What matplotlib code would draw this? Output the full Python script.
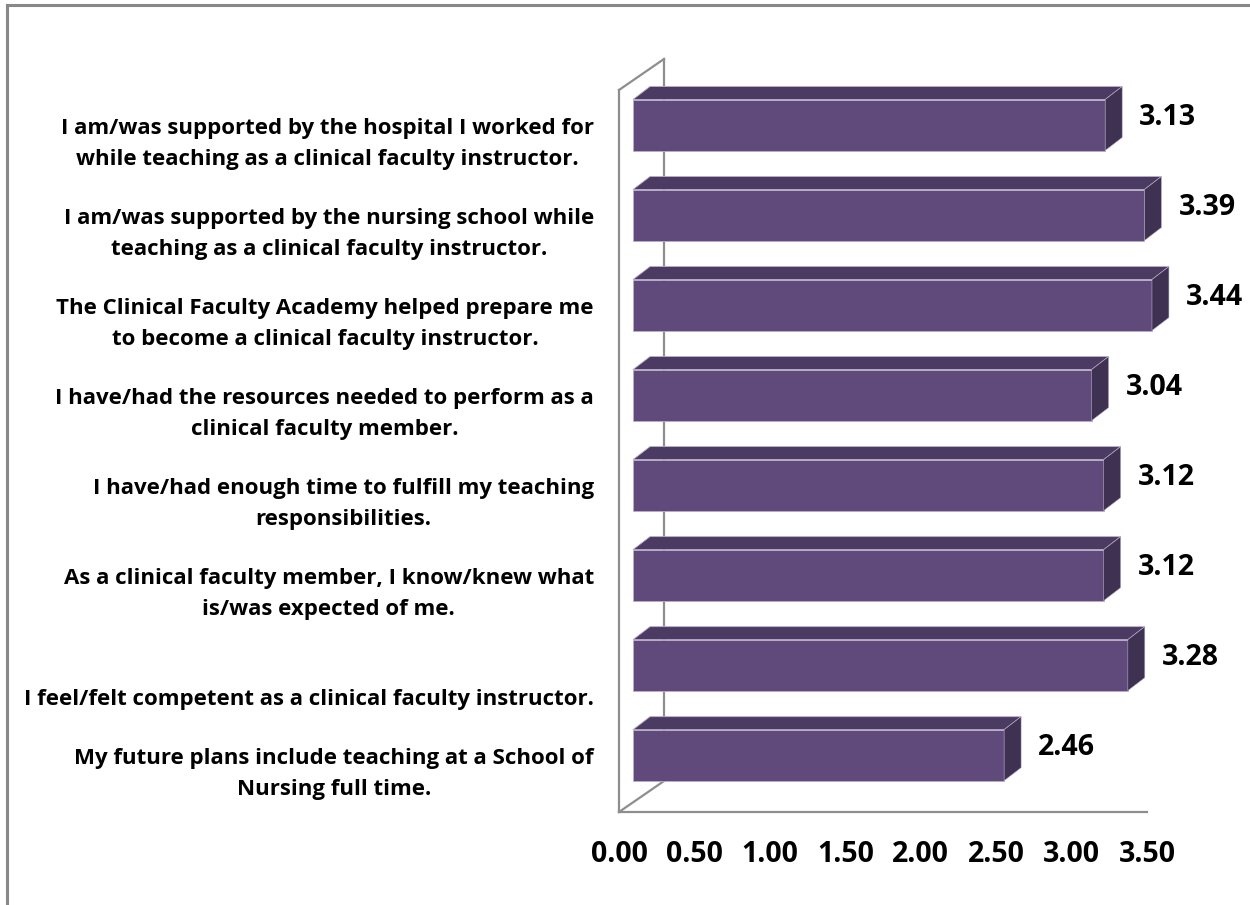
import numpy as np
import matplotlib
matplotlib.use('Agg')
import matplotlib.pyplot as plt
from matplotlib.patches import Polygon
from matplotlib.lines import Line2D

labels=['I am/was supported by the hospital I worked for\nwhile teaching as a clinical faculty instructor.',
	'I am/was supported by the nursing school while\nteaching as a clinical faculty instructor.',
	'The Clinical Faculty Academy helped prepare me\nto become a clinical faculty instructor.',
	'I have/had the resources needed to perform as a\nclinical faculty member.',
	'I have/had enough time to fulfill my teaching\nresponsibilities.',
	'As a clinical faculty member, I know/knew what\nis/was expected of me.',
	'\nI feel/felt competent as a clinical faculty instructor.',
	'My future plans include teaching at a School of\nNursing full time.']
values=[3.13,3.39,3.44,3.04,3.12,3.12,3.28,2.46]
ticks=[0.0,0.5,1.0,1.5,2.0,2.5,3.0,3.5]

W,H=1250,905
plt.rcParams['font.family']=['Open Sans','DejaVu Sans']
fig=plt.figure(figsize=(W/100,H/100),dpi=100)

# front plane of the 3d box, in image pixels
x0,x1=619,1147
ytop,yfloor=90,812
ax=fig.add_axes([x0/W,(H-yfloor)/H,(x1-x0)/W,(yfloor-ytop)/H])
ylo,yhi=7.52,-0.5
ax.set_xlim(0,3.5)
ax.set_ylim(ylo,yhi)
kx=3.5/(x1-x0)            # data per px
ky=(ylo-yhi)/(yfloor-ytop)

front='#604A7B'; topc='#4B3A62'; sidec='#3F3152'; edge='#B9ADC9'
wallc='#8E8E8E'

d1x,d1y=14*kx,10*ky   # bar front relative to wall front
d2x,d2y=17*kx,13*ky   # bar depth
d3x,d3y=45*kx,31*ky   # wall depth
bh=51/90

pos=np.arange(len(values))

# wall / floor
for xs,ys in [([0,0],[ylo,yhi]),([0,d3x],[yhi,yhi-d3y]),([d3x,d3x],[yhi-d3y,ylo-d3y]),
		([0,d3x],[ylo,ylo-d3y]),([0,3.5],[ylo,ylo])]:
	ax.add_line(Line2D(xs,ys,color=wallc,lw=1.6,zorder=1,clip_on=False))

yc=pos-d1y
ax.barh(yc,values,left=d1x,height=bh,color=front,edgecolor=edge,linewidth=0.6,zorder=3,clip_on=False)
for i,v in enumerate(values):
	t=yc[i]-bh/2; b=yc[i]+bh/2
	ax.add_patch(Polygon([(d1x,t),(d1x+v,t),(d1x+v+d2x,t-d2y),(d1x+d2x,t-d2y)],closed=True,facecolor=topc,edgecolor=edge,linewidth=0.6,zorder=3,clip_on=False))
	ax.add_patch(Polygon([(d1x+v,t),(d1x+v,b),(d1x+v+d2x,b-d2y),(d1x+v+d2x,t-d2y)],closed=True,facecolor=sidec,edgecolor=edge,linewidth=0.4,zorder=3,clip_on=False))
	ax.text(d1x+v+34*kx,yc[i]-8*ky,'%.2f'%v,ha='left',va='center',fontsize=20.5,fontweight='bold',color='black',zorder=4,clip_on=False)
	ax.text(-25*kx,pos[i]+9*ky,labels[i],ha='right',va='center',multialignment='center',fontsize=16,fontweight='bold',linespacing=1.6,color='black',clip_on=False)

ax.set_xticks(ticks)
ax.set_xticklabels(['%.2f'%t for t in ticks],fontsize=20.5,fontweight='bold')
ax.tick_params(axis='x',length=0,pad=20)
ax.set_yticks([])
for s in ax.spines.values():
	s.set_visible(False)
ax.patch.set_alpha(0)

# outer chart border (left and top visible)
fig.add_artist(Line2D([7/W,7/W],[0,1-5/H],color='#888888',lw=2.2,transform=fig.transFigure))
fig.add_artist(Line2D([7/W,1],[1-5/H,1-5/H],color='#888888',lw=2.2,transform=fig.transFigure))

fig.savefig('out.png',dpi=100)
